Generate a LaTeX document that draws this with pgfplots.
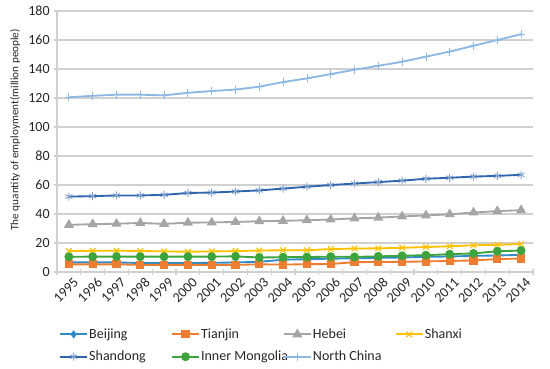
\documentclass[border=0pt]{standalone}
\usepackage{fontspec}
\setmainfont{Carlito}
\usepackage{pgfplots}
\pgfplotsset{compat=1.18}
\definecolor{cBJ}{HTML}{2E8BC8}
\definecolor{cTJ}{HTML}{ED7D31}
\definecolor{cHB}{HTML}{A5A5A5}
\definecolor{cSX}{HTML}{FFC000}
\definecolor{cSD}{HTML}{2F64AE}
\definecolor{cIM}{HTML}{3DA33D}
\definecolor{cNC}{HTML}{8DB8E2}
\definecolor{gridc}{HTML}{D0D0D0}
\definecolor{txt}{HTML}{262626}
\newcommand{\legtxt}[1]{\makebox[60.5pt][l]{#1}}
\begin{document}
\begin{tikzpicture}[x=1pt,y=1pt]
\useasboundingbox (-42.75pt,-72pt) rectangle (369.75pt,204pt);
\begin{axis}[
  scale only axis,
  width=357pt, height=195.75pt,
  at={(0,0)}, anchor=south west,
  xmin=-0.5, xmax=19.5, ymin=0, ymax=180,
  ytick={0,20,...,180},
  xtick={0,...,19},
  xticklabels={1995,1996,1997,1998,1999,2000,2001,2002,2003,2004,2005,2006,2007,2008,2009,2010,2011,2012,2013,2014},
  x tick label style={rotate=45, anchor=north east, inner sep=1pt, yshift=-2pt, xshift=2pt},
  major x tick style={draw=none},
  minor xtick={-0.5,0.5,...,19.5},
  minor x tick style={draw=gridc, line width=0.8pt},
  tick align=outside,
  major tick length=4pt, minor tick length=4pt,
  y tick style={draw=gridc, line width=0.8pt},
  axis x line=bottom, axis y line=left,
  axis line style={-, draw=gridc, line width=0.8pt},
  ymajorgrids, grid style={draw=gridc, line width=0.8pt},
  ticklabel style={font=\fontsize{10.5}{12}\selectfont, text=txt},
  /pgf/number format/assume math mode=true,
  ylabel={The quantity of employment(million people)},
  every axis y label/.style={at={(rel axis cs:-0.088,0.545)}, rotate=90, anchor=center, font=\fontsize{8.4}{10}\selectfont, text=txt},
  legend columns=4,
  legend style={at={(rel axis cs:-0.004,-0.2)}, anchor=north west, draw=none, fill=none,
    font=\fontsize{10.5}{12}\selectfont, text=txt,
    nodes={inner sep=1pt},
    row sep=6pt},
  legend cell align=left,
  legend image code/.code={\draw[mark repeat=2,mark phase=2] plot coordinates {(0pt,0pt) (10pt,0pt) (20pt,0pt)};},
  every axis plot/.append style={line width=1.4pt},
]
\addplot[cBJ, mark=diamond*, mark size=2pt] coordinates {
(0,6.6)(1,6.6)(2,6.6)(3,6.2)(4,6.2)(5,6.2)(6,6.3)(7,6.6)(8,7.0)(9,8.5)(10,8.8)(11,9.2)(12,9.4)(13,9.8)(14,10.0)(15,10.5)(16,10.7)(17,11.1)(18,11.4)(19,11.8)};
\addlegendentry{\legtxt{Beijing}}
\addplot[cTJ, mark=square*, mark size=2.4pt] coordinates {
(0,5.3)(1,5.3)(2,5.3)(3,4.9)(4,4.9)(5,4.9)(6,4.9)(7,4.9)(8,5.3)(9,5.1)(10,5.4)(11,5.5)(12,6.8)(13,6.9)(14,7.0)(15,7.3)(16,7.6)(17,8.0)(18,8.9)(19,9.3)};
\addlegendentry{\legtxt{Tianjin}}
\addplot[cHB, mark=triangle*, mark size=3pt] coordinates {
(0,32.5)(1,33)(2,33.3)(3,33.8)(4,33.2)(5,34)(6,34.2)(7,34.5)(8,35)(9,35.3)(10,35.7)(11,36.2)(12,37)(13,37.5)(14,38.3)(15,39)(16,39.8)(17,41)(18,42)(19,42.6)};
\addlegendentry{\legtxt{Hebei}}
\addplot[cSX, mark=x, mark size=3pt, mark options={line width=0.8pt}] coordinates {
(0,14.5)(1,14.6)(2,14.7)(3,14.5)(4,14.2)(5,14)(6,14.2)(7,14.4)(8,14.8)(9,15)(10,15)(11,15.8)(12,16.2)(13,16.3)(14,16.7)(15,17.2)(16,17.8)(17,18.4)(18,18.8)(19,19.3)};
\addlegendentry{\legtxt{Shanxi}}
\addplot[cSD, mark=asterisk, mark size=3pt, mark options={line width=0.7pt, draw=cSD!60}] coordinates {
(0,52)(1,52.3)(2,52.8)(3,52.8)(4,53.2)(5,54.5)(6,54.8)(7,55.5)(8,56.3)(9,57.5)(10,58.8)(11,60)(12,61)(13,62)(14,63)(15,64.3)(16,65)(17,65.8)(18,66.3)(19,67)};
\addlegendentry{\legtxt{Shandong}}
\addplot[cIM, mark=*, mark size=2.6pt] coordinates {
(0,10.5)(1,10.6)(2,10.6)(3,10.6)(4,10.6)(5,10.6)(6,10.6)(7,10.8)(8,10)(9,10.2)(10,10.3)(11,10.6)(12,10.4)(13,10.8)(14,11.2)(15,11.6)(16,12.3)(17,12.8)(18,14.3)(19,14.8)};
\addlegendentry{\legtxt{Inner Mongolia}}
\addplot[cNC, mark=+, mark size=3pt, mark options={line width=0.6pt}] coordinates {
(0,120.5)(1,121.5)(2,122.3)(3,122.3)(4,121.8)(5,123.6)(6,124.8)(7,125.8)(8,127.8)(9,131)(10,133.5)(11,136.5)(12,139.5)(13,142.2)(14,145)(15,148.5)(16,152)(17,156)(18,160)(19,164)};
\addlegendentry{\legtxt{North China}}
\end{axis}
\end{tikzpicture}
\end{document}
